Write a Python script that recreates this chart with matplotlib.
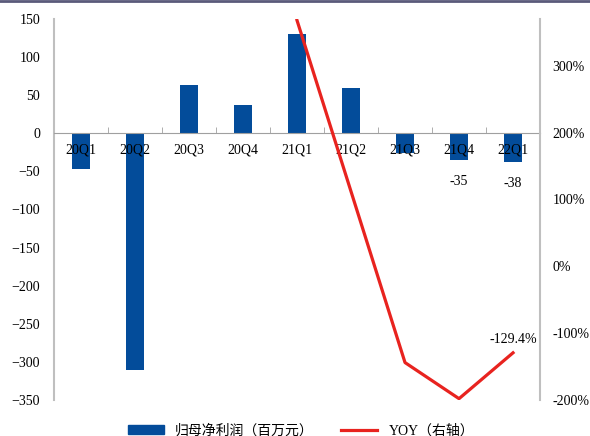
import matplotlib.pyplot as plt
from matplotlib.lines import Line2D
from matplotlib.patches import Patch
import numpy as np

plt.rcParams['font.family'] = ['Liberation Serif', 'Noto Sans CJK SC']

quarters = ["20Q1", "20Q2", "20Q3", "20Q4", "21Q1", "21Q2", "21Q3", "21Q4", "22Q1"]
net_profit = [-47, -311, 63, 37, 130, 60, -26, -35, -38]
yoy_quarters = ["21Q1", "21Q2", "21Q3", "21Q4", "22Q1"]
yoy = [368, 112, -144, -198, -129.4]

bar_color = "#034C9A"
line_color = "#E8231F"
spine_color = "#BFBFBF"

fig = plt.figure(figsize=(5.9, 4.36), dpi=100)
ax = fig.add_axes([0.0915, 0.0826, 0.8238, 0.8738])

x = np.arange(len(quarters))
ax.bar(x, net_profit, width=0.32, color=bar_color, zorder=1)
ax.set_axisbelow(False)
ax.set_xlim(-0.5, len(quarters) - 0.5)
ax.set_ylim(-350, 150)
ax.set_yticks(range(-350, 151, 50))
ax.tick_params(axis='y', length=0, pad=10, labelsize=10)

ax.spines['bottom'].set_position(('data', 0))
ax.spines['bottom'].set_color("#A0A0A0")
ax.spines['left'].set_color(spine_color)
ax.spines['left'].set_linewidth(1.5)
ax.spines['top'].set_visible(False)
ax.spines['right'].set_visible(False)
ax.set_xticks(x)
ax.set_xticklabels(quarters)
ax.set_xticks(np.arange(0.5, len(quarters) - 0.5, 1), minor=True)
ax.tick_params(axis='x', which='major', length=0, pad=7, labelsize=10)
ax.tick_params(axis='x', which='minor', direction='in', length=4, color="#A0A0A0")

for i in (7, 8):
    ax.text(x[i], net_profit[i] - 20, str(net_profit[i]), ha='center', va='top', fontsize=10)

ax2 = ax.twinx()
xi = [quarters.index(q) for q in yoy_quarters]
ax2.plot(xi, yoy, color=line_color, linewidth=2.3, zorder=3)
ax2.set_ylim(-200, 370)
ax2.set_yticks(range(-200, 301, 100))
ax2.set_yticklabels([f"{v}%" for v in range(-200, 301, 100)])
ax2.tick_params(axis='y', length=0, pad=9, labelsize=10)
for s in ('top', 'left', 'bottom'):
    ax2.spines[s].set_visible(False)
ax2.spines['right'].set_color(spine_color)
ax2.spines['right'].set_linewidth(1.5)
ax2.text(xi[-1], yoy[-1] + 10, "-129.4%", ha='center', va='bottom', fontsize=10)

handles = [Patch(color=bar_color), Line2D([], [], color=line_color, linewidth=2.3)]
fig.legend(handles, ["归母净利润（百万元）", "YOY（右轴）"], loc='center',
           bbox_to_anchor=(0.51, 0.012), ncol=2, frameon=False, fontsize=10,
           handlelength=2.6, handleheight=0.6, columnspacing=2.0)

fig.add_artist(Line2D([0, 1], [0.998, 0.998], color="#5A5A7A", linewidth=2, transform=fig.transFigure))

fig.savefig("out.png", dpi=100)
